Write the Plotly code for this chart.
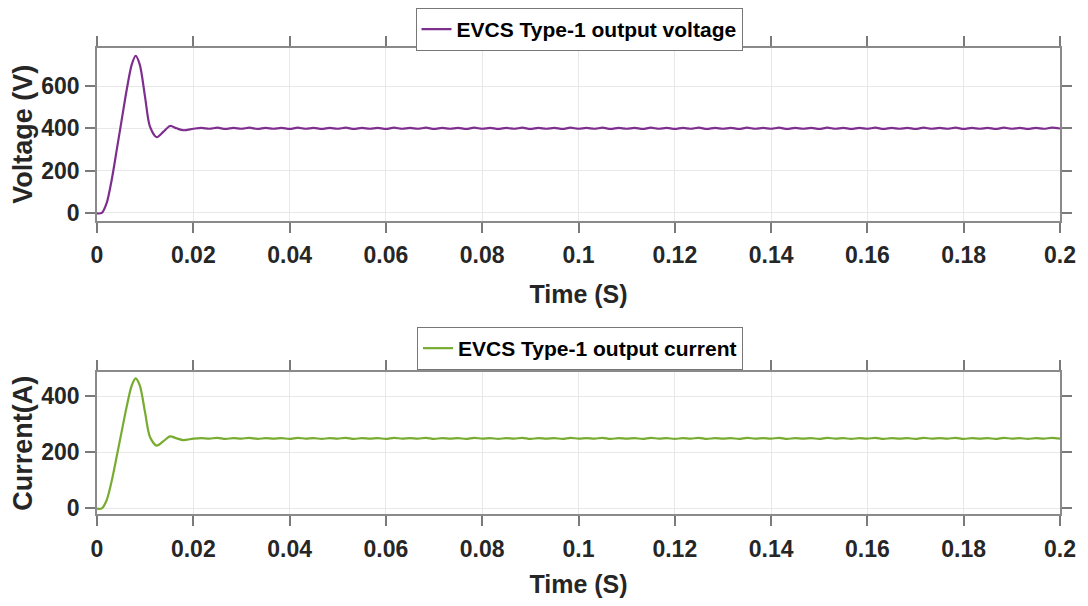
import numpy as np
import plotly.graph_objects as go

# ---- data ----
# transient part (time in s)
t_trans = [0.0, 0.001, 0.002, 0.00305, 0.0041, 0.00513, 0.00617, 0.0072, 0.00803,
           0.0089, 0.00997, 0.011, 0.0124, 0.0138, 0.01516, 0.01655, 0.0179]
v_trans = [-2, 0, 46, 156, 298, 440, 582, 700, 742,
           700, 550, 408, 358, 384, 411, 400, 391]
i_trans = [-1, 0, 29, 98, 186, 275, 364, 438, 464,
           438, 344, 255, 224, 240, 257, 250, 244]

# steady-state ripple peaks/troughs (~300 Hz ripple), from 0.02 s to 0.2 s
v_ss = [
    398, 402, 398, 403, 397, 402, 398, 403, 397, 402,
    398, 402, 397, 403, 398, 402, 397, 402, 398, 403,
    397, 402, 398, 402, 397, 403, 398, 402, 398, 403,
    397, 402, 398, 402, 397, 403, 398, 402, 397, 402,
    398, 403, 397, 402, 398, 402, 397, 403, 398, 402,
    398, 403, 397, 402, 398, 402, 397, 403, 398, 402,
    397, 402, 398, 403, 397, 402, 398, 402, 397, 403,
    398, 402, 398, 403, 397, 402, 398, 402, 397, 403,
    398, 402, 397, 402, 398, 403, 397, 402, 398, 402,
    397, 403, 398, 402, 398, 403, 397, 402, 398, 402,
    397, 403, 398, 402, 397, 402, 398, 403, 399,
]
i_ss = [
    249, 251, 249, 252, 248, 251, 249, 252, 248, 251,
    249, 251, 248, 252, 249, 251, 248, 251, 249, 252,
    248, 251, 249, 251, 248, 252, 249, 251, 249, 252,
    248, 251, 249, 251, 248, 252, 249, 251, 248, 251,
    249, 252, 248, 251, 249, 251, 248, 252, 249, 251,
    249, 252, 248, 251, 249, 251, 248, 252, 249, 251,
    248, 251, 249, 252, 248, 251, 249, 251, 248, 252,
    249, 251, 249, 252, 248, 251, 249, 251, 248, 252,
    249, 251, 248, 251, 249, 252, 248, 251, 249, 251,
    248, 252, 249, 251, 249, 252, 248, 251, 249, 251,
    248, 252, 249, 251, 248, 251, 249, 252, 249,
]
t_ss = list(np.linspace(0.0200, 0.2000, len(v_ss)))

time = t_trans + t_ss
voltage = v_trans + v_ss
current = i_trans + i_ss

x_ticks = [0, 0.02, 0.04, 0.06, 0.08, 0.1, 0.12, 0.14, 0.16, 0.18, 0.2]
x_labels = ['0', '0.02', '0.04', '0.06', '0.08', '0.1', '0.12', '0.14', '0.16', '0.18', '0.2']
v_ticks = [0, 200, 400, 600]
i_ticks = [0, 200, 400]

FONT = "Liberation Sans, Arial, sans-serif"

# the page body has an 8px margin, so the figure is drawn from (8, 8)
OFF = 8
W, H = 1072, 590


def px_x(x):
    return (x - OFF) / W


def px_y(y):
    return 1 - (y - OFF) / H


fig = go.Figure()
fig.add_trace(go.Scatter(x=time, y=voltage, mode='lines', name='EVCS Type-1 output voltage',
                         line=dict(color='#7E2F8E', width=2.2, shape='spline', smoothing=0.8),
                         xaxis='x', yaxis='y', legend='legend'))
fig.add_trace(go.Scatter(x=time, y=current, mode='lines', name='EVCS Type-1 output current',
                         line=dict(color='#77AC30', width=2.2, shape='spline', smoothing=0.8),
                         xaxis='x2', yaxis='y2', legend='legend2'))

tickfont = dict(family=FONT, size=23, color='#262626', weight='bold')
common_x = dict(range=[0, 0.2], tickvals=x_ticks, ticktext=x_labels, ticks='outside', ticklen=10,
                tickwidth=1.5, tickcolor='#7a7a7a', mirror='ticks', showline=True, linecolor='#8a8a8a',
                linewidth=1.5, showgrid=True, gridcolor='#e8e8e8', gridwidth=1, zeroline=False,
                tickfont=tickfont, automargin=False, ticklabelstandoff=3,
                title=dict(text='Time (S)', font=dict(family=FONT, size=25, color='#262626', weight='bold'),
                           standoff=18))
common_y = dict(ticks='outside', ticklen=10, tickwidth=1.5, tickcolor='#7a7a7a', mirror='ticks',
                showline=True, linecolor='#8a8a8a', linewidth=1.5, showgrid=True, gridcolor='#e8e8e8',
                gridwidth=1, zeroline=False, tickfont=tickfont, automargin=False, ticklabelstandoff=1)

xdom = [px_x(97), px_x(1060)]
legfont = dict(family=FONT, size=21, color='black', weight='bold')
fig.update_layout(
    width=W, height=H, margin=dict(l=0, r=0, t=0, b=0, autoexpand=False),
    paper_bgcolor='white', plot_bgcolor='white',
    xaxis=dict(domain=xdom, anchor='y', **common_x),
    yaxis=dict(domain=[px_y(221), px_y(47.7)], anchor='x', range=[-38, 781], tickvals=v_ticks,
               title=dict(text='Voltage (V)', font=dict(family=FONT, size=27, color='#262626', weight='bold'),
                          standoff=8),
               **common_y),
    xaxis2=dict(domain=xdom, anchor='y2', **common_x),
    yaxis2=dict(domain=[px_y(514.3), px_y(372)], anchor='x2', range=[-21, 487], tickvals=i_ticks,
                title=dict(text='Current(A)', font=dict(family=FONT, size=27, color='#262626', weight='bold'),
                           standoff=8),
                **common_y),
    legend=dict(x=px_x(579), xanchor='center', y=1.0, yanchor='top', bgcolor='white',
                bordercolor='#777777', borderwidth=1, font=legfont),
    legend2=dict(x=px_x(580), xanchor='center', y=px_y(327), yanchor='top', bgcolor='white',
                 bordercolor='#777777', borderwidth=1, font=legfont),
    showlegend=True,
)

fig.write_html("out.html")
